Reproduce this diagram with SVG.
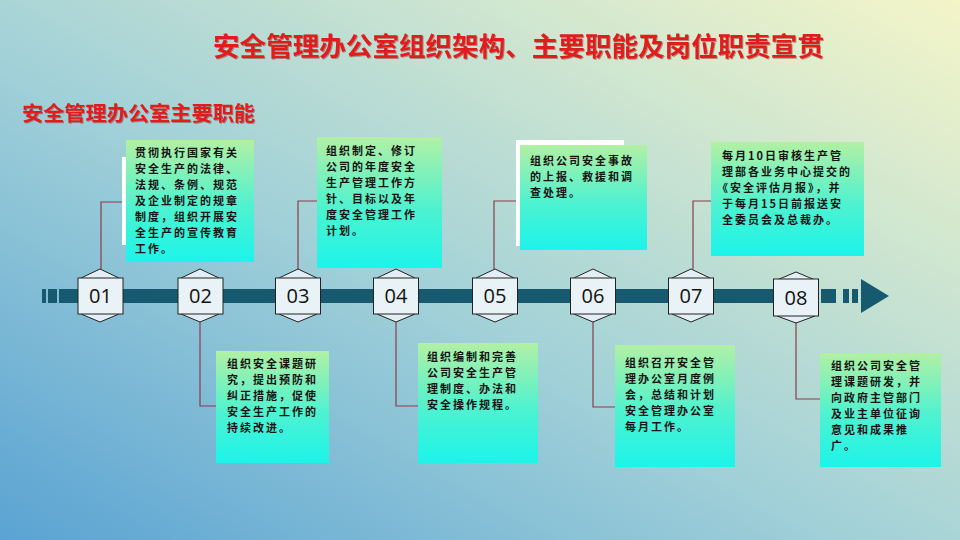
<svg xmlns="http://www.w3.org/2000/svg" width="960" height="540" viewBox="0 0 960 540">
<defs>
<linearGradient id="bg" x1="0" y1="1" x2="1" y2="0">
<stop offset="0" stop-color="#5aa3d3"/>
<stop offset="0.45" stop-color="#a2d1d8"/>
<stop offset="0.75" stop-color="#cfe6d0"/>
<stop offset="1" stop-color="#f4f5c8"/>
</linearGradient>
<linearGradient id="card" x1="0" y1="0" x2="0" y2="1">
<stop offset="0" stop-color="#b2f0a4"/>
<stop offset="0.55" stop-color="#4ef2d0"/>
<stop offset="1" stop-color="#1cf4ea"/>
</linearGradient>
<filter id="ts" x="-5%" y="-20%" width="110%" height="140%">
<feDropShadow dx="1" dy="1" stdDeviation="0.6" flood-color="#7a2020" flood-opacity="0.45"/>
</filter>
</defs>
<style>
.title{font-family:"Noto Sans CJK SC","Noto Sans",sans-serif;font-weight:bold;fill:#e21c1c}
.card{fill:url(#card)}
.t{font-family:"Noto Sans CJK SC","Noto Sans",sans-serif;font-weight:bold;font-size:11px;letter-spacing:2px;fill:#141414}
.hex{fill:#e4eff5;stroke:#222;stroke-width:1}
.box{fill:#e8f2f7;stroke:#222;stroke-width:1}
.num{font-family:"Open Sans","DejaVu Sans",sans-serif;font-size:20px;fill:#111;text-anchor:middle}
.conn{fill:none;stroke:#8a3c4c;stroke-width:1.2}
.bar{fill:#175a70}
</style>
<rect width="960" height="540" fill="url(#bg)"/>

<text class="title" x="213" y="56" font-size="26" textLength="611" lengthAdjust="spacingAndGlyphs" filter="url(#ts)">安全管理办公室组织架构、主要职能及岗位职责宣贯</text>
<text class="title" x="22" y="121" font-size="20.5" textLength="233" lengthAdjust="spacingAndGlyphs" filter="url(#ts)">安全管理办公室主要职能</text>

<g id="timeline">
<rect class="bar" x="42" y="289" width="4" height="14"/>
<rect class="bar" x="48" y="289" width="9" height="14"/>
<rect class="bar" x="59" y="289" width="18" height="14"/>
<rect class="bar" x="77" y="289" width="720" height="14"/>
<rect class="bar" x="821" y="289" width="15" height="14"/>
<rect class="bar" x="843" y="289" width="6" height="14"/>
<rect class="bar" x="852" y="289" width="6" height="14"/>
<polygon class="bar" points="861,279 889,296 861,313"/>
</g>

<g id="connectors">
<polyline class="conn" points="101,269 101,202 126,202"/>
<polyline class="conn" points="298,269 298,201 317,201"/>
<polyline class="conn" points="494,269 494,201 516,201"/>
<polyline class="conn" points="693,269 693,201 711,201"/>
<polyline class="conn" points="200,322 200,406 216,406"/>
<polyline class="conn" points="396,322 396,406 418,406"/>
<polyline class="conn" points="593,322 593,407 615,407"/>
<polyline class="conn" points="796,323 796,399 820,399"/>
</g>

<g id="node01"><polygon class="hex" points="100,269 119,278 119,314 100,322 81,314 81,278"/><rect class="box" x="78" y="278" width="45" height="36"/><text class="num" x="100.5" y="303">01</text></g>
<g id="node02"><polygon class="hex" points="200,269 219,278 219,314 200,322 181,314 181,278"/><rect class="box" x="178" y="278" width="45" height="36"/><text class="num" x="200.5" y="303">02</text></g>
<g id="node03"><polygon class="hex" points="298,269 317,278 317,314 298,322 279,314 279,278"/><rect class="box" x="275.5" y="278" width="45" height="36"/><text class="num" x="298" y="303">03</text></g>
<g id="node04"><polygon class="hex" points="396,269 415,278 415,314 396,322 377,314 377,278"/><rect class="box" x="373.5" y="278" width="45" height="36"/><text class="num" x="396" y="303">04</text></g>
<g id="node05"><polygon class="hex" points="495,269 514,278 514,314 495,322 476,314 476,278"/><rect class="box" x="472.5" y="278" width="45" height="36"/><text class="num" x="495" y="303">05</text></g>
<g id="node06"><polygon class="hex" points="593,269 612,278 612,314 593,322 574,314 574,278"/><rect class="box" x="570.5" y="278" width="45" height="36"/><text class="num" x="593" y="303">06</text></g>
<g id="node07"><polygon class="hex" points="691,269 710,278 710,314 691,322 672,314 672,278"/><rect class="box" x="668.5" y="278" width="45" height="36"/><text class="num" x="691" y="303">07</text></g>
<g id="node08"><polygon class="hex" points="796,272 815,280 815,316 796,323 777,316 777,280"/><rect class="box" x="773.5" y="279" width="45" height="37"/><text class="num" x="796" y="305">08</text></g>

<g id="card1">
<rect x="122" y="157" width="6" height="88" fill="#ffffff"/>
<rect class="card" x="126" y="140" width="128" height="122"/>
<text class="t"><tspan x="135" y="157">贯彻执行国家有关</tspan><tspan x="135" y="173">安全生产的法律、</tspan><tspan x="135" y="189">法规、条例、规范</tspan><tspan x="135" y="205">及企业制定的规章</tspan><tspan x="135" y="221">制度，组织开展安</tspan><tspan x="135" y="237">全生产的宣传教育</tspan><tspan x="135" y="253">工作。</tspan></text>
</g>

<g id="card3">
<rect class="card" x="317" y="137" width="125" height="131"/>
<text class="t"><tspan x="326" y="155">组织制定、修订</tspan><tspan x="326" y="171">公司的年度安全</tspan><tspan x="326" y="187">生产管理工作方</tspan><tspan x="326" y="203">针、目标以及年</tspan><tspan x="326" y="219">度安全管理工作</tspan><tspan x="326" y="235">计划。</tspan></text>
</g>

<g id="card5">
<rect x="516" y="140" width="108" height="106" fill="#ffffff"/>
<rect class="card" x="520" y="145" width="127" height="105"/>
<text class="t"><tspan x="530" y="165">组织公司安全事故</tspan><tspan x="530" y="181">的上报、救援和调</tspan><tspan x="530" y="197">查处理。</tspan></text>
</g>

<g id="card7">
<rect class="card" x="711" y="142" width="153" height="114"/>
<text class="t"><tspan x="722" y="160">每月10日审核生产管</tspan><tspan x="722" y="176">理部各业务中心提交的</tspan><tspan x="717" y="192">《安全评估月报》，并</tspan><tspan x="722" y="208">于每月15日前报送安</tspan><tspan x="722" y="224">全委员会及总裁办。</tspan></text>
</g>

<g id="card2">
<rect class="card" x="216" y="351" width="113" height="112"/>
<text class="t"><tspan x="227" y="368">组织安全课题研</tspan><tspan x="227" y="384">究，提出预防和</tspan><tspan x="227" y="400">纠正措施，促使</tspan><tspan x="227" y="416">安全生产工作的</tspan><tspan x="227" y="432">持续改进。</tspan></text>
</g>

<g id="card4">
<rect class="card" x="418" y="343" width="120" height="120"/>
<text class="t"><tspan x="427" y="361">组织编制和完善</tspan><tspan x="427" y="377">公司安全生产管</tspan><tspan x="427" y="393">理制度、办法和</tspan><tspan x="427" y="409">安全操作规程。</tspan></text>
</g>

<g id="card6">
<rect class="card" x="615" y="345" width="120" height="122"/>
<text class="t"><tspan x="625" y="367">组织召开安全管</tspan><tspan x="625" y="383">理办公室月度例</tspan><tspan x="625" y="399">会，总结和计划</tspan><tspan x="625" y="415">安全管理办公室</tspan><tspan x="625" y="431">每月工作。</tspan></text>
</g>

<g id="card8">
<rect class="card" x="820" y="353" width="121" height="114"/>
<text class="t"><tspan x="831" y="370">组织公司安全管</tspan><tspan x="831" y="386">理课题研发，并</tspan><tspan x="831" y="402">向政府主管部门</tspan><tspan x="831" y="418">及业主单位征询</tspan><tspan x="831" y="434">意见和成果推</tspan><tspan x="831" y="450">广。</tspan></text>
</g>
</svg>
